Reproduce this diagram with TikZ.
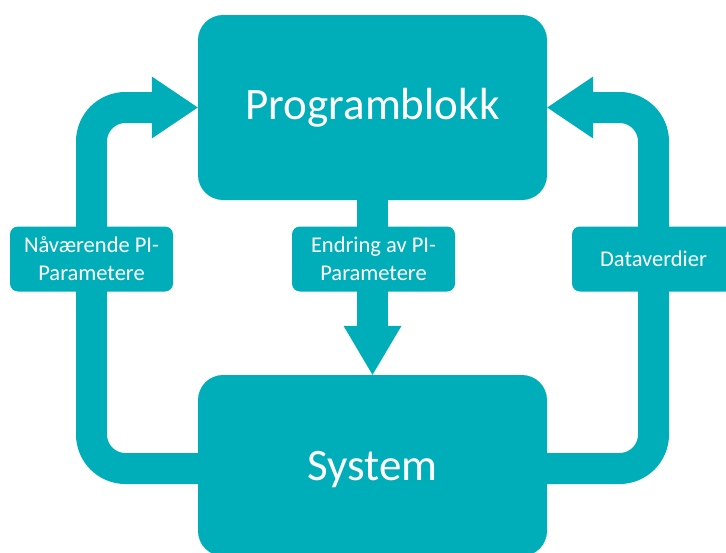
\documentclass[tikz,border=0pt]{standalone}
\usepackage{fontspec}
\setmainfont{Carlito}
\usepackage{tikz}
\usetikzlibrary{calc,backgrounds}
\definecolor{tealbox}{HTML}{00AEBA}
\tikzset{
  bigbox/.style={fill=tealbox, rounded corners=25pt, minimum width=349pt, text=white, font=\fontsize{45}{52}\selectfont},
  labelbox/.style={fill=tealbox, rounded corners=8pt, minimum width=163pt, minimum height=65pt, text=white, align=center, font=\fontsize{22.5}{28}\selectfont},
  band/.style={draw=tealbox, line width=31pt, rounded corners=34pt},
  head/.style={fill=tealbox}
}

\begin{document}
\begin{tikzpicture}[x=1pt,y=-1pt]
        \useasboundingbox (0,0) rectangle (726,552);
        \clip (0,0) rectangle (726,552);

        \coordinate (xP) at (372.5, 107.5);
        \coordinate (xS) at (372.5, 465.5);
        \coordinate (xN) at (91.5, 259);
        \coordinate (xE) at (373.5, 259);
        \coordinate (xD) at (653.5, 259);

        \node[bigbox, minimum height=185pt] (prog) at (xP) {Programblokk};
        \node[bigbox, minimum height=181pt, text depth=0pt] (sys) at (xS) {System};
        \node[labelbox] (now) at (xN) {Nåværende PI-\\Parametere};
        \node[labelbox] (change) at (xE) {Endring av PI-\\Parametere};
        \node[labelbox] (data) at (xD) {Dataverdier};

        \begin{scope}[on background layer]
        \draw[band] ($(sys.west)+(0,3)$) -| (now.center) |- ($(prog.west)+(-44,0)$);
        \draw[band] ($(sys.east)+(0,3)$) -| (data.center) |- ($(prog.east)+(44,0)$);
        \draw[band] (prog.south) -- ($(sys.north)+(0,-47)$);
        \fill[head] (prog.west) -- ++(-46,-31) -- ++(0,62) -- cycle;
        \fill[head] (prog.east) -- ++(46,-31) -- ++(0,62) -- cycle;
        \fill[head] (sys.north) -- ++(-29,-49) -- ++(58,0) -- cycle;
        \end{scope}
    \end{tikzpicture}
\end{document}
